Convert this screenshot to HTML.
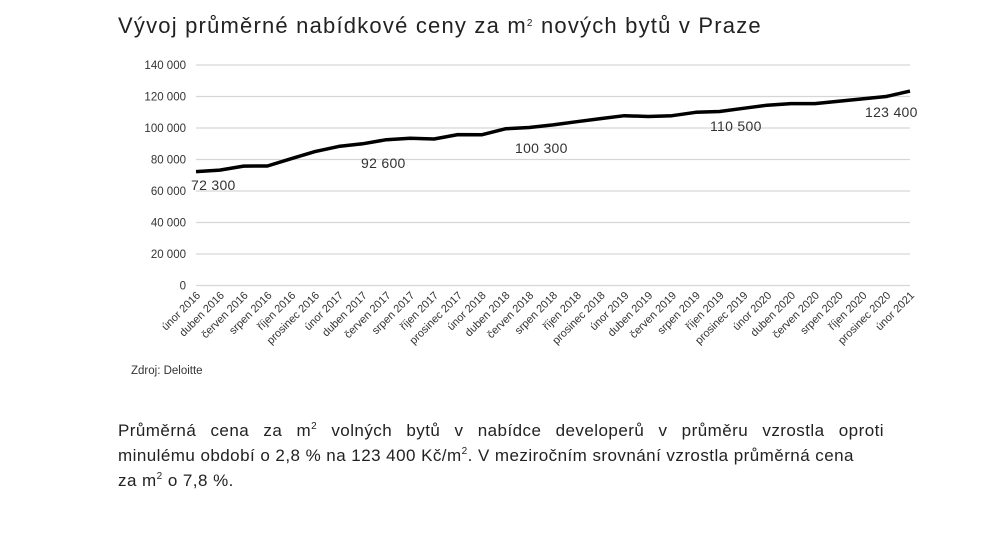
<!DOCTYPE html>
<html><head><meta charset="utf-8"><style>
body{margin:0;width:1000px;height:546px;background:#fff;font-family:"Liberation Sans",sans-serif;color:#222;overflow:hidden;position:relative}
.t{position:absolute;left:118px;top:13px;font-size:22px;letter-spacing:1.2px;color:#222}
.p{position:absolute;left:118px;top:418px;width:766px;font-size:17px;letter-spacing:0.45px;line-height:25px;color:#222}
.l1{text-align:justify;text-align-last:justify;white-space:nowrap}
sup{font-size:10px;vertical-align:7px;line-height:0}
</style></head><body>
<div class="t">Vývoj průměrné nabídkové ceny za m<sup>2</sup> nových bytů v Praze</div>
<svg width="1000" height="546" style="position:absolute;left:0;top:0" font-family="Liberation Sans,sans-serif">
<g stroke="#d6d6d6" stroke-width="1.3">
<line x1="196" x2="910" y1="65" y2="65"/><line x1="196" x2="910" y1="96.5" y2="96.5"/><line x1="196" x2="910" y1="128" y2="128"/><line x1="196" x2="910" y1="159.5" y2="159.5"/><line x1="196" x2="910" y1="191" y2="191"/><line x1="196" x2="910" y1="222.5" y2="222.5"/><line x1="196" x2="910" y1="254" y2="254"/><line x1="196" x2="910" y1="285.5" y2="285.5"/>
</g>
<g font-size="11.5" fill="#333" text-anchor="end">
<text x="186" y="69">140 000</text><text x="186" y="100.5">120 000</text><text x="186" y="132">100 000</text><text x="186" y="163.5">80 000</text><text x="186" y="195">60 000</text><text x="186" y="226.5">40 000</text><text x="186" y="258">20 000</text><text x="186" y="289.5">0</text>
</g>
<polyline id="ln" fill="none" stroke="#000" stroke-width="3.5" stroke-linejoin="round" points=""/>
<g font-size="14" fill="#333" letter-spacing="0.3">
<text x="191" y="190">72 300</text><text x="361" y="168">92 600</text><text x="515" y="153">100 300</text><text x="710" y="131">110 500</text><text x="865" y="117">123 400</text>
</g>
<g id="xl" font-size="11" fill="#333" text-anchor="end"></g>
<text x="131" y="374" font-size="11.5" fill="#333">Zdroj: Deloitte</text>
</svg>
<div class="p"><div class="l1">Průměrná cena za m<sup>2</sup> volných bytů v nabídce developerů v průměru vzrostla oproti</div>minulému období o 2,8 % na 123 400 Kč/m<sup>2</sup>. V meziročním srovnání vzrostla průměrná cena<br>za m<sup>2</sup> o 7,8 %.</div>
<script>
var v=[72300,73300,75800,75900,80500,85000,88300,90000,92600,93500,93000,95800,95700,99500,100300,102000,104000,106000,107800,107300,107800,110000,110500,112500,114500,115500,115500,117000,118500,120000,123400];
var m=["únor","duben","červen","srpen","říjen","prosinec"];
var pts=[],g=document.getElementById("xl"),s="";
for(var i=0;i<31;i++){var x=196+i*23.8,y=285.5-v[i]/20000*31.5;pts.push(x.toFixed(1)+","+y.toFixed(1));
var lab=m[i%6]+" "+(2016+Math.floor(i/6));
s+='<text transform="translate('+(x+5)+',296) rotate(-45)">'+lab+'</text>';}
document.getElementById("ln").setAttribute("points",pts.join(" "));
g.innerHTML=s;
</script>
</body></html>
